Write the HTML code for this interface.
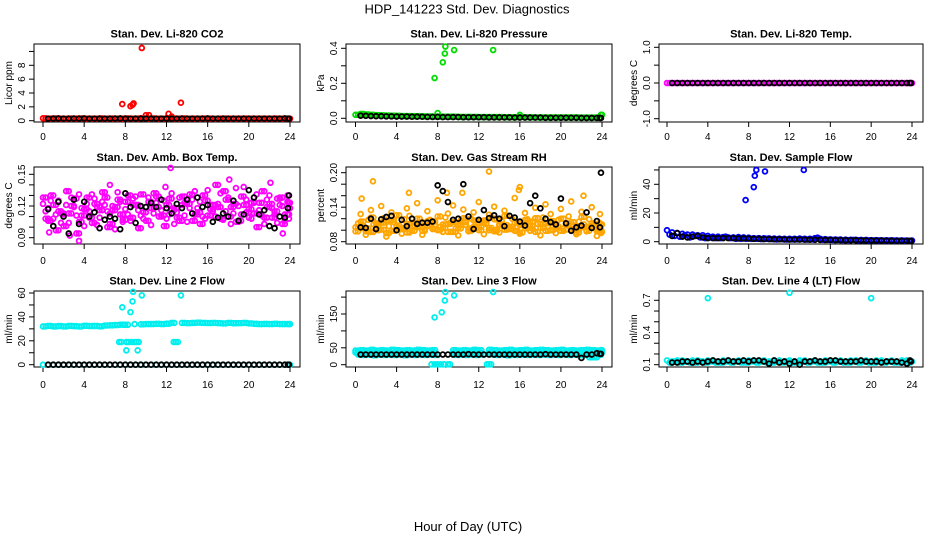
<!DOCTYPE html>
<html><head><meta charset="utf-8"><style>
html,body{margin:0;padding:0;background:#fff;}
svg{display:block;font-family:"Liberation Sans",Arial,sans-serif;}
</style></head><body>
<svg id="chart" width="936" height="540" viewBox="0 0 936 540">
<text x="467" y="13.5" font-size="13" text-anchor="middle">HDP_141223  Std. Dev. Diagnostics</text>
<text x="468" y="531" font-size="13" text-anchor="middle">Hour of Day (UTC)</text>
</svg>
<script>
const H = [0,0.5,1,1.5,2,2.5,3,3.5,4,4.5,5,5.5,6,6.5,7,7.5,8,8.5,9,9.5,10,10.5,11,11.5,12,12.5,13,13.5,14,14.5,15,15.5,16,16.5,17,17.5,18,18.5,19,19.5,20,20.5,21,21.5,22,22.5,23,23.5,24];
const HQ = [0.25,0.75,1.25,1.75,2.25,2.75,3.25,3.75,4.25,4.75,5.25,5.75,6.25,6.75,7.25,7.75,8.25,8.75,9.25,9.75,10.25,10.75,11.25,11.75,12.25,12.75,13.25,13.75,14.25,14.75,15.25,15.75,16.25,16.75,17.25,17.75,18.25,18.75,19.25,19.75,20.25,20.75,21.25,21.75,22.25,22.75,23.25,23.75,23.9];
const HB = [0.5,1,1.5,2,2.5,3,3.5,4,4.5,5,5.5,6,6.5,7,7.5,8,8.5,9,9.5,10,10.5,11,11.5,12,12.5,13,13.5,14,14.5,15,15.5,16,16.5,17,17.5,18,18.5,19,19.5,20,20.5,21,21.5,22,22.5,23,23.5,23.8,23.9];
// Panel 1 CO2
const co2Red = [0.35,0.3,0.32,0.3,0.28,0.31,0.3,0.33,0.3,0.29,0.3,0.32,0.3,0.31,0.3,0.29,0.32,0.3,0.31,0.35,0.3,0.32,0.3,0.3,0.34,0.31,0.3,0.32,0.3,0.3,0.29,0.31,0.3,0.28,0.3,0.31,0.3,0.29,0.3,0.31,0.3,0.3,0.29,0.3,0.3,0.31,0.3,0.29,0.3];
const co2OutH = [7.7,8.5,8.7,8.8,9.6,10,10.3,12.2,12.5,13.4];
const co2OutV = [2.4,2.1,2.3,2.5,10.5,0.8,0.8,1.0,0.6,2.6];
const co2Black = [0.3,0.3,0.32,0.3,0.3,0.31,0.3,0.33,0.3,0.3,0.3,0.3,0.3,0.31,0.32,0.3,0.3,0.3,0.3,0.3,0.3,0.3,0.3,0.3,0.3,0.3,0.3,0.3,0.3,0.3,0.3,0.32,0.3,0.3,0.3,0.3,0.3,0.3,0.3,0.3,0.3,0.3,0.3,0.3,0.3,0.3,0.33,0.3,0.3];
// Panel 2 Pressure
const presGreen = [0.02,0.025,0.022,0.02,0.018,0.017,0.016,0.015,0.014,0.013,0.013,0.012,0.012,0.011,0.011,0.01,0.01,0.009,0.009,0.009,0.008,0.008,0.008,0.008,0.007,0.007,0.007,0.007,0.007,0.006,0.006,0.006,0.008,0.006,0.006,0.005,0.005,0.005,0.005,0.005,0.005,0.005,0.005,0.005,0.004,0.004,0.004,0.004,0.02];
const presOutH = [7.7,8.5,8.7,8.75,9.6,13.4,8,16];
const presOutV = [0.23,0.32,0.37,0.41,0.39,0.39,0.03,0.02];
const presBlack = [0.015,0.014,0.013,0.012,0.012,0.011,0.011,0.01,0.01,0.01,0.009,0.009,0.009,0.008,0.008,0.008,0.007,0.007,0.007,0.007,0.006,0.006,0.006,0.006,0.006,0.005,0.005,0.005,0.005,0.005,0.004,0.004,0.004,0.004,0.004,0.004,0.003,0.003,0.003,0.003,0.003,0.003,0.003,0.002,0.002,0.002,0.002,0.002,0.002];
// Panel 3 Temp
const tempMag = [0,0,0,0,0,0,0,0,0,0,0,0,0,0,0,0,0,0,0,0,0,0,0,0,0,0,0,0,0,0,0,0,0,0,0,0,0,0,0,0,0,0,0,0,0,0,0,0,0];
const tempBlack = [0,0,0,0,0,0,0,0,0,0,0,0,0,0,0,0,0,0,0,0,0,0,0,0,0,0,0,0,0,0,0,0,0,0,0,0,0,0,0,0,0,0,0,0,0,0,0,0,0];
// Panel 4 Amb box temp
const ambA = [0.122,0.118,0.108,0.125,0.112,0.104,0.119,0.131,0.101,0.115,0.127,0.109,0.121,0.113,0.098,0.124,0.117,0.106,0.129,0.111,0.119,0.102,0.123,0.116,0.108,0.132,0.114,0.121,0.105,0.126,0.118,0.11,0.135,0.115,0.122,0.107,0.128,0.113,0.12,0.138,0.109,0.124,0.116,0.103,0.13,0.112,0.121,0.106,0.118];
const ambB = [0.108,0.13,0.097,0.113,0.134,0.12,0.094,0.111,0.128,0.104,0.119,0.133,0.1,0.116,0.126,0.107,0.13,0.121,0.099,0.114,0.124,0.132,0.11,0.101,0.127,0.118,0.106,0.123,0.131,0.112,0.103,0.125,0.117,0.14,0.108,0.126,0.119,0.105,0.129,0.114,0.123,0.1,0.134,0.119,0.109,0.127,0.103,0.124,0.112];
const ambC = [0.115,0.125,0.112,0.104,0.121,0.128,0.111,0.118,0.122,0.131,0.102,0.124,0.115,0.12,0.133,0.105,0.112,0.127,0.116,0.108,0.128,0.113,0.119,0.125,0.112,0.103,0.128,0.111,0.118,0.134,0.124,0.108,0.121,0.11,0.132,0.115,0.103,0.137,0.112,0.126,0.108,0.131,0.111,0.126,0.118,0.104,0.12,0.13,0.108];
const ambD = [0.128,0.106,0.121,0.115,0.101,0.113,0.127,0.105,0.117,0.109,0.122,0.116,0.128,0.103,0.119,0.112,0.124,0.109,0.121,0.131,0.106,0.118,0.129,0.111,0.121,0.116,0.109,0.129,0.122,0.106,0.114,0.13,0.111,0.121,0.119,0.134,0.11,0.122,0.106,0.121,0.117,0.113,0.123,0.109,0.122,0.115,0.128,0.112,0.123];
const ambOutH = [0.6,2.6,3.5,12.4,18.1,22.1,23.3,6.5,11.9];
const ambOutV = [0.095,0.092,0.087,0.156,0.145,0.142,0.094,0.14,0.138];
const ambBlack = [0.117,0.101,0.124,0.11,0.094,0.126,0.103,0.124,0.11,0.114,0.099,0.107,0.11,0.108,0.098,0.132,0.119,0.104,0.12,0.119,0.123,0.119,0.126,0.118,0.113,0.122,0.118,0.126,0.113,0.128,0.119,0.121,0.105,0.109,0.113,0.11,0.125,0.106,0.112,0.135,0.128,0.112,0.116,0.101,0.099,0.11,0.109,0.118,0.13];
// Panel 5 RH
const rhA = [0.105,0.115,0.098,0.122,0.108,0.113,0.095,0.118,0.126,0.104,0.111,0.099,0.12,0.107,0.116,0.102,0.124,0.11,0.097,0.114,0.109,0.121,0.103,0.117,0.106,0.112,0.1,0.119,0.108,0.125,0.102,0.113,0.096,0.118,0.107,0.121,0.111,0.099,0.116,0.104,0.12,0.109,0.114,0.101,0.123,0.106,0.112,0.098,0.11];
const rhB = [0.128,0.092,0.135,0.101,0.142,0.089,0.131,0.106,0.094,0.138,0.1,0.147,0.092,0.133,0.104,0.152,0.097,0.129,0.143,0.091,0.136,0.098,0.131,0.149,0.093,0.127,0.141,0.096,0.134,0.103,0.156,0.094,0.13,0.099,0.139,0.091,0.145,0.128,0.095,0.137,0.101,0.15,0.093,0.132,0.098,0.14,0.09,0.128,0.095];
const rhC = [0.112,0.104,0.118,0.11,0.1,0.121,0.107,0.114,0.103,0.119,0.125,0.108,0.113,0.101,0.118,0.11,0.106,0.122,0.113,0.103,0.117,0.109,0.12,0.104,0.115,0.111,0.123,0.101,0.116,0.109,0.12,0.105,0.114,0.119,0.102,0.111,0.122,0.107,0.113,0.118,0.103,0.124,0.108,0.115,0.11,0.119,0.104,0.113,0.102];
const rhD = [0.098,0.108,0.103,0.097,0.112,0.101,0.116,0.099,0.108,0.102,0.096,0.113,0.105,0.099,0.107,0.115,0.1,0.104,0.111,0.097,0.103,0.114,0.099,0.106,0.1,0.117,0.104,0.098,0.11,0.101,0.106,0.099,0.109,0.103,0.115,0.097,0.104,0.112,0.1,0.107,0.099,0.111,0.102,0.096,0.105,0.099,0.108,0.101,0.097];
const rhOutH = [1.7,13,16,22.2,0.6,5.2,10.4,15.9,8.9];
const rhOutV = [0.185,0.202,0.175,0.16,0.155,0.165,0.165,0.17,0.165];
const rhBlack = [0.105,0.104,0.12,0.102,0.119,0.123,0.125,0.1,0.118,0.107,0.12,0.111,0.113,0.113,0.115,0.178,0.168,0.149,0.118,0.12,0.18,0.124,0.102,0.118,0.135,0.121,0.126,0.12,0.107,0.125,0.122,0.115,0.108,0.147,0.16,0.138,0.12,0.114,0.11,0.155,0.112,0.099,0.105,0.108,0.131,0.104,0.116,0.105,0.2];
// Panel 6 Sample flow
const sfBlue = [8,6.5,6,5.5,5,5,4.5,4.5,4,3.5,3.5,3.2,3,3,3.2,3,2.8,2.5,2.5,2.4,2.3,2.2,2.1,2,2,2,2.2,2,2,2.5,2,1.8,1.6,1.5,1.5,1.4,1.3,1.3,1.2,1.2,1.1,1.1,1,1,1,0.9,0.9,0.8,0.8];
const sfBlue2 = [5,4,3.5,4.5,3,4,3,2.5,3,2.5,2.5,3.5,2.5,2,2,2,2,2,1.8,2,1.8,1.6,1.7,1.5,1.6,1.6,1.7,1.5,1.6,2.8,1.4,1.3,1.2,1.2,1.1,1.1,1.2,1,1,0.9,0.9,0.9,0.8,0.8,0.8,0.7,0.7,0.6,0.6];
const sfOutH = [7.7,8.5,8.6,8.75,9.6,13.4];
const sfOutV = [29,38,46,50,49,50];
const sfBlack = [4,6,3.5,3,3.5,4,3,2.5,2.5,2.5,2.5,2.5,2.5,2.3,2.3,2.2,2,2,1.8,1.8,1.7,1.7,1.6,1.5,1.5,1.5,1.4,1.4,1.3,1.3,1.2,1.2,1.1,1.1,1,1,1,0.9,0.9,0.8,0.8,0.8,0.7,0.7,0.6,0.6,0.6,0.5,0.5];
// Panel 7 Line 2 flow
const l2Cyan = [32,32.5,32,32.3,32,32.5,32.2,32,32.6,32.3,32.4,32.1,32.8,33,33.2,33.5,33.4,null,null,33.8,34,34,34.2,34,34.3,35,null,35,34.8,35,35.2,35,34.9,35,34.8,34.5,35,34.7,34.8,35,34.5,34.2,34,34.1,34,34.2,34,34,34];
const l2Zero = [0,0,0,0,0,0,0,0,0,0,0,0,0,0,0,0,0,0,0,0,0,0,0,0,0,0,0,0,0,0,0,0,0,0,0,0,0,0,0,0,0,0,0,0,0,0,0,0,0];
const l2OutH = [7.4,7.6,8.1,8.3,8.6,8.9,9.1,9.3,12.7,12.9,13.1,7.7,8.1,8.5,8.7,8.75,8.9,9.2,9.6,13.4,7.9];
const l2OutV = [19,19,19,19,19,19,19,19,19,19,19,48,12,44,53,61,34,12,58,58,33.5];
const l2Black = [0,0,0,0,0,0,0,0,0,0,0,0,0,0,0,0,0,0,0,0,0,0,0,0,0,0,0,0,0,0,0,0,0,0,0,0,0,0,0,0,0,0,0,0,0,0,0,0,0];
// Panel 8 Line 3 flow
const l3Hi = [42,43,42,44,42,43,42,44,43,42,43,42,44,43,42,43,null,null,null,43,42,43,42,44,43,null,44,43,42,43,44,42,43,44,42,43,44,43,42,43,44,42,43,42,43,44,43,42,43];
const l3Mid = [36,35,37,36,35,36,37,35,36,37,35,36,37,36,35,36,null,null,null,36,37,35,36,37,36,null,36,35,37,36,35,36,37,35,36,37,36,35,36,37,35,36,37,36,35,36,37,36,35];
const l3Lo = [30,29,30,28,30,29,30,29,30,28,30,29,30,29,30,29,null,null,null,29,30,29,30,29,30,null,30,29,30,28,30,29,30,29,30,29,30,29,30,29,30,29,30,28,30,22,22,29,30];
const l3OutH = [7.4,7.7,8,8.3,8.6,9,9.2,12.8,13,13.2,7.7,8.4,8.7,8.75,9.6,13.4];
const l3OutV = [1,1,1,1,1,1,1,1,1,1,140,155,190,215,205,215];
const l3Black = [30,30,30,30,30,30,30,30,30,30,30,30,30,30,30,30,30,30,30,30,30,31,30,30,30,30,30,30,30,30,30,30,30,30,30,30,31,30,30,30,30,30,30,20,30,30,34,32,32];
// Panel 9 Line 4 flow
const l4Cyan = [0.14,0.13,0.14,0.14,0.13,0.14,0.14,0.13,0.14,0.14,0.13,0.14,0.14,0.13,0.14,0.13,0.14,0.14,0.13,0.14,0.13,0.14,0.14,0.13,0.14,0.13,0.14,0.14,0.13,0.14,0.13,0.14,0.14,0.13,0.14,0.13,0.14,0.14,0.13,0.14,0.13,0.14,0.14,0.13,0.14,0.13,0.14,0.14,0.13];
const l4Cyan2 = [0.12,0.13,0.12,0.13,0.12,0.12,0.13,0.12,0.13,0.12,0.12,0.13,0.12,0.13,0.12,0.12,0.13,0.12,0.13,0.12,0.12,0.13,0.12,0.13,0.12,0.12,0.13,0.12,0.13,0.12,0.12,0.13,0.12,0.13,0.12,0.12,0.13,0.12,0.13,0.12,0.12,0.13,0.12,0.13,0.12,0.12,0.13,0.12,0.13];
const l4OutH = [4,12,20];
const l4OutV = [0.72,0.77,0.72];
const l4Black = [0.12,0.12,0.13,0.13,0.12,0.13,0.12,0.13,0.14,0.13,0.13,0.14,0.13,0.13,0.14,0.13,0.14,0.14,0.13,0.11,0.14,0.12,0.13,0.11,0.13,0.1,0.13,0.13,0.14,0.13,0.13,0.14,0.14,0.13,0.13,0.13,0.13,0.14,0.13,0.13,0.13,0.12,0.13,0.13,0.13,0.12,0.11,0.14,0.13];

const NS = 'http://www.w3.org/2000/svg';
const svg = document.getElementById('chart');
const COLS = [{L:34,R:300,x0:43,x24:290},{L:346,R:612,x0:355.5,x24:602},{L:659,R:923,x0:667,x24:912}];
const ROWS = [{T:44,B:122,xl:140,tt:37.5},{T:167,B:244,xl:264,tt:161},{T:291,B:367,xl:388,tt:284.5}];
function mk(tag, attrs, parent){const e=document.createElementNS(NS,tag);for(const k in attrs)e.setAttribute(k,attrs[k]);(parent||svg).appendChild(e);return e;}

function panel(name, col, row, title, ylab, cal, ticks, labels, series){
  const c=COLS[col], r=ROWS[row];
  const g=mk('g',{});
  
  
  const xs=h=>c.x0+(c.x24-c.x0)*h/24;
  const ys=v=>cal[1]+(v-cal[0])*(cal[3]-cal[1])/(cal[2]-cal[0]);
  const t=mk('text',{x:(c.L+c.R)/2,y:r.tt,'font-size':11,'font-weight':'bold','text-anchor':'middle'},g);
  t.textContent=title;
  
  
  const box=mk('rect',{x:c.L,y:r.T,width:c.R-c.L,height:r.B-r.T,fill:'none',stroke:'#000','stroke-width':1},g);
  
  
  [0,4,8,12,16,20,24].forEach(h=>{
    mk('line',{x1:xs(h),x2:xs(h),y1:r.B,y2:r.B+5,stroke:'#000'},g);
    const tl=mk('text',{x:xs(h),y:r.xl,'font-size':10,'text-anchor':'middle'},g);
    tl.textContent=h;
    
    
  });
  mk('line',{x1:c.L,x2:c.L,y1:ys(ticks[0]),y2:ys(ticks[ticks.length-1]),stroke:'#000'},g);
  ticks.forEach((v,i)=>{
    const y=ys(v);
    mk('line',{x1:c.L-5,x2:c.L,y1:y,y2:y,stroke:'#000'},g);
    if(labels[i]!==''){
      const tl=mk('text',{x:0,y:0,'font-size':10,'text-anchor':'middle',transform:`translate(${c.L-9},${y}) rotate(-90)`},g);
      tl.textContent=labels[i];
      
      
    }
  });
  const yl=mk('text',{x:0,y:0,'font-size':10,'text-anchor':'middle',transform:`translate(${c.L-22},${(r.T+r.B)/2}) rotate(-90)`},g);
  yl.textContent=ylab;
  
  
  series.forEach(s=>{
    const sg=mk('g',{fill:'none',stroke:s.color,'stroke-width':1.8},g);
    
    
    s.v.forEach((v,i)=>{
      if(v===null||v===undefined)return;
      const p=mk('circle',{cx:xs(s.h[i]),cy:ys(v),r:2.4},sg);
      
      
    });
  });
}
const RED='#ff0000',GRN='#00dd00',MAG='#ff00ff',ORG='#ffa500',BLU='#0000ff',CYN='#00eeee',BLK='#000';
panel('co2',0,0,'Stan. Dev. Li-820 CO2','Licor ppm',[0,120.7,8,65.3],[0,2,4,6,8,10],['0','2','4','6','8',''],
  [{id:'red',color:RED,h:H,v:co2Red},{id:'red-b',color:RED,h:HQ,v:co2Red},{id:'red-outliers',color:RED,h:co2OutH,v:co2OutV},{id:'black',color:BLK,h:HB,v:co2Black}]);
panel('pressure',1,0,'Stan. Dev. Li-820 Pressure','kPa',[0,118.3,0.4,48.3],[0,0.1,0.2,0.3,0.4],['0.0','','0.2','','0.4'],
  [{id:'green',color:GRN,h:H,v:presGreen},{id:'green-b',color:GRN,h:HQ,v:presGreen},{id:'green-outliers',color:GRN,h:presOutH,v:presOutV},{id:'black',color:BLK,h:HB,v:presBlack}]);
panel('temp',2,0,'Stan. Dev. Li-820 Temp.','degrees C',[0,83,1,47.3],[-1,-0.5,0,0.5,1],['-1.0','','0.0','','1.0'],
  [{id:'magenta',color:MAG,h:H,v:tempMag},{id:'magenta-b',color:MAG,h:HQ,v:tempMag},{id:'black',color:BLK,h:HB,v:tempBlack}]);
panel('amb-box',0,1,'Stan. Dev. Amb. Box Temp.','degrees C',[0.09,237.7,0.15,174.3],[0.09,0.1,0.11,0.12,0.13,0.14,0.15],['0.09','','','0.12','','','0.15'],
  [{id:'magenta-a',color:MAG,h:H,v:ambA},{id:'magenta-b',color:MAG,h:HB,v:ambB},{id:'magenta-c',color:MAG,h:HQ,v:ambC},{id:'magenta-d',color:MAG,h:HQ,v:ambD},{id:'magenta-e',color:MAG,h:H,v:ambD},{id:'magenta-f',color:MAG,h:HQ,v:ambB},{id:'magenta-outliers',color:MAG,h:ambOutH,v:ambOutV},{id:'black',color:BLK,h:HB,v:ambBlack}]);
panel('rh',1,1,'Stan. Dev. Gas Stream RH','percent',[0.08,241.7,0.2,172.7],[0.08,0.1,0.12,0.14,0.16,0.18,0.2],['0.08','','','0.14','','','0.20'],
  [{id:'orange-a',color:ORG,h:H,v:rhA},{id:'orange-b',color:ORG,h:HB,v:rhB},{id:'orange-c',color:ORG,h:HQ,v:rhC},{id:'orange-d',color:ORG,h:H,v:rhD},{id:'orange-e',color:ORG,h:HQ,v:rhD},{id:'orange-f',color:ORG,h:HQ,v:rhA},{id:'orange-outliers',color:ORG,h:rhOutH,v:rhOutV},{id:'black',color:BLK,h:HB,v:rhBlack}]);
panel('sample-flow',2,1,'Stan. Dev. Sample Flow','ml/min',[0,241.7,40,184.3],[0,10,20,30,40,50],['0','','20','','40',''],
  [{id:'blue',color:BLU,h:H,v:sfBlue},{id:'blue-b',color:BLU,h:HQ,v:sfBlue2},{id:'blue-outliers',color:BLU,h:sfOutH,v:sfOutV},{id:'black',color:BLK,h:HB,v:sfBlack}]);
panel('line2',0,2,'Stan. Dev. Line 2 Flow','ml/min',[0,364.7,60,293],[0,10,20,30,40,50,60],['0','','20','','40','','60'],
  [{id:'cyan',color:CYN,h:H,v:l2Cyan},{id:'cyan-b',color:CYN,h:HQ,v:l2Cyan},{id:'cyan-zero',color:CYN,h:H,v:l2Zero},{id:'cyan-outliers',color:CYN,h:l2OutH,v:l2OutV},{id:'black',color:BLK,h:HB,v:l2Black}]);
panel('line3',1,2,'Stan. Dev. Line 3 Flow','ml/min',[0,364.7,150,314],[0,50,100,150,200],['0','50','','150',''],
  [{id:'cyan-hi',color:CYN,h:H,v:l3Hi},{id:'cyan-hi-b',color:CYN,h:HQ,v:l3Hi},{id:'cyan-mid',color:CYN,h:H,v:l3Mid},{id:'cyan-mid-b',color:CYN,h:HQ,v:l3Mid},{id:'cyan-lo',color:CYN,h:HB,v:l3Lo},{id:'cyan-lo-b',color:CYN,h:HQ,v:l3Lo},{id:'cyan-outliers',color:CYN,h:l3OutH,v:l3OutV},{id:'black',color:BLK,h:HB,v:l3Black}]);
panel('line4',2,2,'Stan. Dev. Line 4 (LT) Flow','ml/min',[0.1,364.7,0.7,300.3],[0.1,0.2,0.3,0.4,0.5,0.6,0.7],['0.1','','','0.4','','','0.7'],
  [{id:'cyan',color:CYN,h:H,v:l4Cyan},{id:'cyan-b',color:CYN,h:HQ,v:l4Cyan2},{id:'cyan-c',color:CYN,h:HB,v:l4Cyan2},{id:'cyan-outliers',color:CYN,h:l4OutH,v:l4OutV},{id:'black',color:BLK,h:HB,v:l4Black}]);
</script>
</body></html>
